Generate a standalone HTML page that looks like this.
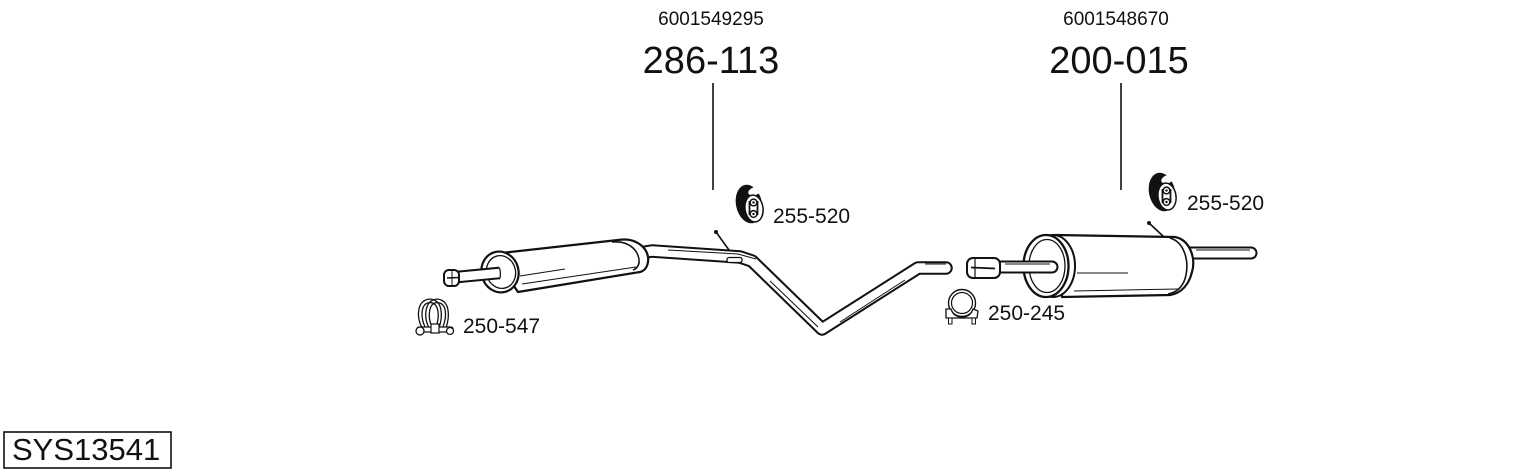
<!DOCTYPE html>
<html>
<head>
<meta charset="utf-8">
<style>
html,body{margin:0;padding:0;background:#fff;}
svg{display:block;}
text{font-family:"Liberation Sans",Arial,sans-serif;fill:#111;}
</style>
</head>
<body>
<svg width="1530" height="474" viewBox="0 0 1530 474" xmlns="http://www.w3.org/2000/svg">
<rect width="1530" height="474" fill="#fff"/>

<!-- Top labels -->
<text x="711" y="25" font-size="19" text-anchor="middle">6001549295</text>
<text x="711" y="73" font-size="38" text-anchor="middle">286-113</text>
<text x="1116" y="25" font-size="19" text-anchor="middle">6001548670</text>
<text x="1119" y="73" font-size="38" text-anchor="middle">200-015</text>

<!-- leader lines -->
<line x1="713" y1="83" x2="713" y2="190" stroke="#111" stroke-width="1.6"/>
<line x1="1121" y1="83" x2="1121" y2="190" stroke="#111" stroke-width="1.6"/>

<!-- ===== Mid pipe (drawn before front muffler) ===== -->
<path d="M640,253 L652,251 L740,257 L752,261 L822,329 L918,268 L946,268" fill="none" stroke="#111" stroke-width="13.5" stroke-linejoin="round" stroke-linecap="round"/>
<path d="M640,253 L652,251 L740,257 L752,261 L822,329 L918,268 L946,268" fill="none" stroke="#fff" stroke-width="9.5" stroke-linejoin="round" stroke-linecap="round"/>
<!-- inner highlight line -->
<path d="M668,250 L738,254 L756,259" fill="none" stroke="#111" stroke-width="1"/>
<path d="M770,281 L818,327" fill="none" stroke="#111" stroke-width="1"/>
<path d="M840,322 L905,280" fill="none" stroke="#111" stroke-width="1"/>
<path d="M925,264 L946,264" fill="none" stroke="#111" stroke-width="1"/>
<!-- clip on pipe -->
<rect x="727" y="257.5" width="15" height="5" rx="2" fill="#fff" stroke="#111" stroke-width="1.3"/>
<!-- front hanger pin -->
<line x1="716" y1="232" x2="729" y2="250" stroke="#111" stroke-width="1.6"/>
<circle cx="716" cy="232" r="2" fill="#111"/>

<!-- ===== Front muffler ===== -->
<path d="M492,254 L618,240 C638,237 650,250 648,262 C647,268 644,271 640,272 L518,292 Z" fill="#fff" stroke="#111" stroke-width="2.2" stroke-linejoin="round"/>
<path d="M612,242 C630,240 640,252 639,263 C638,267 636,269 633,270" fill="none" stroke="#111" stroke-width="1.6"/>
<path d="M522,284 L636,267" fill="none" stroke="#111" stroke-width="1.1"/>
<path d="M520,276 L565,269" fill="none" stroke="#111" stroke-width="1"/>
<!-- front end cap -->
<ellipse cx="500" cy="272" rx="18.5" ry="20.5" transform="rotate(-15 500 272)" fill="#fff" stroke="#111" stroke-width="2.2"/>
<ellipse cx="501" cy="272" rx="14.5" ry="16.5" transform="rotate(-15 501 272)" fill="#fff" stroke="#111" stroke-width="1.3"/>
<!-- inlet pipe -->
<path d="M452,277.5 L499,273" fill="none" stroke="#111" stroke-width="12.5"/>
<path d="M452,277.5 L499.5,273" fill="none" stroke="#fff" stroke-width="8.5"/>
<path d="M498,267 C501,268 501,278 499,279" fill="none" stroke="#111" stroke-width="1.3"/>
<!-- inlet tip -->
<rect x="444" y="270" width="15" height="16" rx="5" fill="#fff" stroke="#111" stroke-width="2"/>
<line x1="447" y1="278" x2="459" y2="277.5" stroke="#111" stroke-width="1.5"/>
<line x1="452" y1="271" x2="452" y2="285" stroke="#111" stroke-width="1"/>

<!-- ===== Rear section ===== -->
<!-- tail pipe -->
<path d="M1180,253 L1251,253" fill="none" stroke="#111" stroke-width="13" stroke-linecap="round"/>
<path d="M1180,253 L1251,253" fill="none" stroke="#fff" stroke-width="9" stroke-linecap="round"/>
<line x1="1196" y1="250" x2="1250" y2="250" stroke="#111" stroke-width="0.9"/>
<!-- rear hanger pin -->
<line x1="1149" y1="223" x2="1164" y2="237" stroke="#111" stroke-width="1.6"/>
<circle cx="1149" cy="223" r="2" fill="#111"/>
<!-- body -->
<path d="M1055,235 L1175,237 C1190,240 1196,258 1192,272 C1189,284 1182,293 1170,295 L1062,297 Z" fill="#fff" stroke="#111" stroke-width="2.2" stroke-linejoin="round"/>
<path d="M1170,238 C1184,242 1189,260 1186,275 C1184,285 1178,292 1168,294" fill="none" stroke="#111" stroke-width="1.6"/>
<path d="M1074,291 L1178,289" fill="none" stroke="#111" stroke-width="1"/>
<path d="M1077,273 L1128,273" fill="none" stroke="#111" stroke-width="1.1"/>
<!-- front cap -->
<ellipse cx="1053" cy="266" rx="22" ry="31" fill="#fff" stroke="#111" stroke-width="2"/>
<ellipse cx="1046" cy="266" rx="22.5" ry="31" fill="#fff" stroke="#111" stroke-width="2.3"/>
<ellipse cx="1047" cy="266" rx="18" ry="26.5" fill="#fff" stroke="#111" stroke-width="1.3"/>
<!-- rear inlet pipe -->
<path d="M998,267 L1052,267" fill="none" stroke="#111" stroke-width="13" stroke-linecap="round"/>
<path d="M998,267 L1052,267" fill="none" stroke="#fff" stroke-width="9" stroke-linecap="round"/>
<line x1="1005" y1="264" x2="1050" y2="264" stroke="#111" stroke-width="0.9"/>
<!-- rear inlet tip -->
<rect x="967" y="258" width="33" height="20" rx="6" fill="#fff" stroke="#111" stroke-width="2"/>
<line x1="971" y1="267.5" x2="995" y2="268.5" stroke="#111" stroke-width="1.8"/>
<line x1="975" y1="259" x2="975" y2="277" stroke="#111" stroke-width="1.2"/>

<!-- ===== Hanger 255-520 (front) ===== -->
<g id="hg">
<ellipse cx="749" cy="204" rx="13" ry="19.5" transform="rotate(-12 749 204)" fill="#111"/>
<ellipse cx="755" cy="191" rx="7" ry="4" transform="rotate(-20 755 191)" fill="#fff"/>
<ellipse cx="754" cy="208.5" rx="9" ry="13.5" transform="rotate(-8 754 208.5)" fill="#fff" stroke="#111" stroke-width="1.5"/>
<path d="M749.5,201 L749.5,215 M757.5,201 L757.5,215" stroke="#111" stroke-width="1.8"/>
<circle cx="753.5" cy="202.5" r="3.4" fill="#fff" stroke="#111" stroke-width="1.5"/>
<circle cx="753.5" cy="214" r="3.4" fill="#fff" stroke="#111" stroke-width="1.5"/>
<circle cx="753.5" cy="202.5" r="1.2" fill="#111"/>
<circle cx="753.5" cy="214" r="1.2" fill="#111"/>
</g>
<text x="773" y="223" font-size="21">255-520</text>

<!-- ===== Hanger 255-520 (rear) ===== -->
<g transform="translate(413,-12)">
<ellipse cx="749" cy="204" rx="13" ry="19.5" transform="rotate(-12 749 204)" fill="#111"/>
<ellipse cx="755" cy="191" rx="7" ry="4" transform="rotate(-20 755 191)" fill="#fff"/>
<ellipse cx="754" cy="208.5" rx="9" ry="13.5" transform="rotate(-8 754 208.5)" fill="#fff" stroke="#111" stroke-width="1.5"/>
<path d="M749.5,201 L749.5,215 M757.5,201 L757.5,215" stroke="#111" stroke-width="1.8"/>
<circle cx="753.5" cy="202.5" r="3.4" fill="#fff" stroke="#111" stroke-width="1.5"/>
<circle cx="753.5" cy="214" r="3.4" fill="#fff" stroke="#111" stroke-width="1.5"/>
<circle cx="753.5" cy="202.5" r="1.2" fill="#111"/>
<circle cx="753.5" cy="214" r="1.2" fill="#111"/>
</g>
<text x="1187" y="210" font-size="21">255-520</text>

<!-- ===== Clamp 250-547 ===== -->
<g fill="none" stroke="#111" stroke-width="1.3">
<path d="M422,328 C416,316 417,300 430,299 C443,300 443,316 439,328"/>
<path d="M425,327 C420,316 421,303 430,302.5 C439,303 440,316 436,327"/>
<path d="M429,328 C423,316 425,300 437,299 C450,300 450,316 446,328"/>
<path d="M432,327 C427,316 429,303 437,302.5 C447,303 447,316 443,327"/>
</g>
<rect x="417" y="327" width="36" height="5" rx="2" fill="#fff" stroke="#111" stroke-width="1.3"/>
<circle cx="420" cy="331" r="4" fill="#fff" stroke="#111" stroke-width="1.3"/>
<circle cx="450" cy="331" r="3.5" fill="#fff" stroke="#111" stroke-width="1.3"/>
<rect x="431" y="324" width="8" height="9" fill="#fff" stroke="#111" stroke-width="1.2"/>
<text x="463" y="333" font-size="21">250-547</text>

<!-- ===== Clamp 250-245 ===== -->
<circle cx="962" cy="303" r="13.5" fill="#fff" stroke="#111" stroke-width="1.4"/>
<circle cx="962" cy="303" r="10.5" fill="none" stroke="#111" stroke-width="1.2"/>
<path d="M946,309 L951,309 C953,315 957,317 962,317 C967,317 971,315 973,309 L978,311 L977,318 L946,318 Z" fill="#fff" stroke="#111" stroke-width="1.3" stroke-linejoin="round"/>
<rect x="948.5" y="318" width="3.5" height="6" fill="#fff" stroke="#111" stroke-width="1"/>
<rect x="972" y="318" width="3.5" height="6" fill="#fff" stroke="#111" stroke-width="1"/>
<text x="988" y="320" font-size="21">250-245</text>

<!-- ===== System ID box ===== -->
<rect x="4" y="432" width="167" height="36" fill="#fff" stroke="#111" stroke-width="1.6"/>
<text x="12" y="460" font-size="31">SYS13541</text>
</svg>
</body>
</html>
